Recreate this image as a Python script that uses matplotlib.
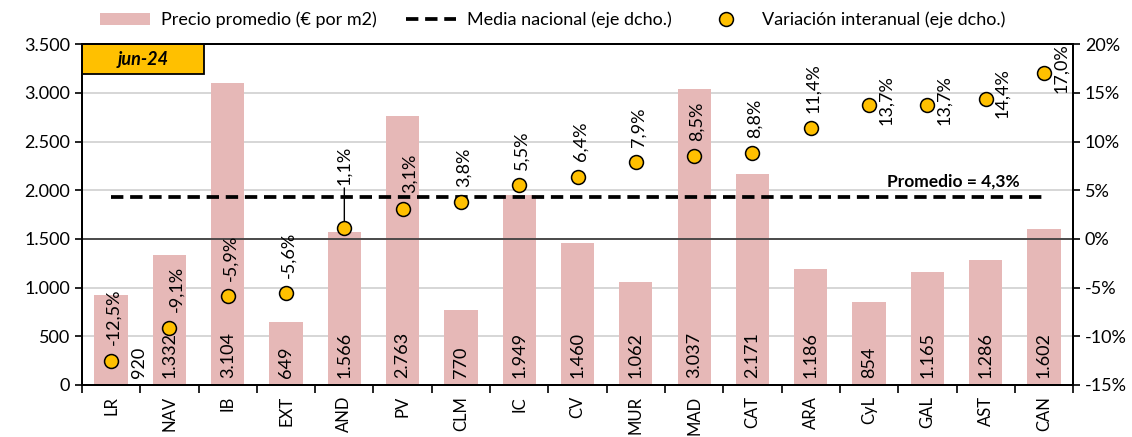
# precio medio por CCAA y variación interanual

import matplotlib.pyplot as plt
from matplotlib.patches import Rectangle
import numpy as np

plt.rcParams['font.family'] = ['Lato', 'DejaVu Sans']

# datos
regiones = ['LR', 'NAV', 'IB', 'EXT', 'AND', 'PV', 'CLM', 'IC', 'CV',
            'MUR', 'MAD', 'CAT', 'ARA', 'CyL', 'GAL', 'AST', 'CAN']
precio = [920, 1332, 3104, 649, 1566, 2763, 770, 1949, 1460,
          1062, 3037, 2171, 1186, 854, 1165, 1286, 1602]
variacion = [-12.5, -9.1, -5.9, -5.6, 1.1, 3.1, 3.8, 5.5, 6.4,
             7.9, 8.5, 8.8, 11.4, 13.7, 13.7, 14.4, 17.0]
media = 4.3
etiqueta_fecha = 'jun-24'

def fmt_miles(v):
    return f'{v:,.0f}'.replace(',', '.')

def fmt_pct(v):
    return f'{v:.1f}%'.replace('.', ',')

x = np.arange(len(regiones))
fs = 13

fig = plt.figure(figsize=(11.32, 4.37), dpi=100)
ax = fig.add_axes([0.0724, 0.119, 0.8756, 0.780])
ax2 = ax.twinx()

# barras (eje izq.)
ax.bar(x, precio, width=0.57, color='#E6B8B7', zorder=2,
       label='Precio promedio (€ por m2)')
ax.set_ylim(0, 3500)
ax.set_yticks(np.arange(0, 3501, 500))
ax.set_yticklabels([fmt_miles(v) for v in np.arange(0, 3501, 500)], fontsize=fs)
ax.set_xlim(-0.5, len(regiones) - 0.5)
ax.set_xticks(x)
ax.set_xticklabels(regiones, rotation=90, fontsize=12)
ax.tick_params(axis='x', length=0, pad=8)
ax.set_xticks(np.arange(-0.5, len(regiones), 1), minor=True)
ax.tick_params(axis='x', which='minor', length=6, width=1.2)
ax.tick_params(axis='y', length=5, width=1.2)
for yv in np.arange(500, 3500, 500):
    ax.axhline(yv, color='#D0D0D0', lw=1.2, zorder=1)
ax.axhline(1500, color='#404040', lw=1.3, zorder=3)
for s in ax.spines.values():
    s.set_linewidth(1.4)

# etiquetas de las barras
for i, v in enumerate(precio):
    xi = i + 0.47 if i == 0 else i
    ax.text(xi, 70, fmt_miles(v), rotation=90, ha='center', va='bottom',
            fontsize=fs, zorder=4)

# media y variación (eje dcho.)
ax2.plot([x[0], x[-1]], [media, media], color='black', lw=2.7,
         dashes=(3.3, 1.8), zorder=5, label='Media nacional (eje dcho.)')
ax2.plot(x, variacion, 'o', ms=10, mfc='#FFC000', mec='black', mew=1.1,
         zorder=6, label='Variación interanual (eje dcho.)')
ax2.set_ylim(-15, 20)
ax2.set_yticks(np.arange(-15, 21, 5))
ax2.set_yticklabels([f'{v}%' for v in np.arange(-15, 21, 5)], fontsize=fs)
ax2.tick_params(axis='y', length=5, width=1.2)
for s in ax2.spines.values():
    s.set_linewidth(1.4)

for i, v in enumerate(variacion):
    if i >= 13:
        ax2.annotate(fmt_pct(v), (i, v), xytext=(12, 4), textcoords='offset points',
                     rotation=90, ha='center', va='center', fontsize=fs, zorder=7)
    elif regiones[i] == 'AND':
        ax2.annotate(fmt_pct(v), (i, v), xytext=(0, 31), textcoords='offset points',
                     rotation=90, ha='center', va='bottom', fontsize=fs, zorder=7,
                     arrowprops=dict(arrowstyle='-', color='black', lw=1,
                                     shrinkA=0, shrinkB=5))
    else:
        dx = 5 if i in (1, 5) else 2
        ax2.annotate(fmt_pct(v), (i, v), xytext=(dx, 11), textcoords='offset points',
                     rotation=90, ha='center', va='bottom', fontsize=fs, zorder=7)

ax2.text(14.45, 5.9, 'Promedio = ' + fmt_pct(media), ha='center', va='center',
         fontsize=12.5, fontweight='bold')

# recuadro de fecha
ax.add_patch(Rectangle((0.0, 0.913), 0.123, 0.087, transform=ax.transAxes,
                       fc='#FFC000', ec='black', lw=1.3, zorder=8, clip_on=False))
ax.text(0.0615, 0.956, etiqueta_fecha, transform=ax.transAxes, ha='center', va='center',
        fontsize=fs, fontweight='bold', fontstyle='italic', zorder=9)

# leyenda
h1, l1 = ax.get_legend_handles_labels()
h2, l2 = ax2.get_legend_handles_labels()
fig.legend(h1 + h2, l1 + l2, ncol=3, loc='upper center', bbox_to_anchor=(0.488, 1.01),
           frameon=False, fontsize=13, handlelength=2.8, columnspacing=1.6,
           handletextpad=0.6)

plt.savefig('out.png', dpi=100)
